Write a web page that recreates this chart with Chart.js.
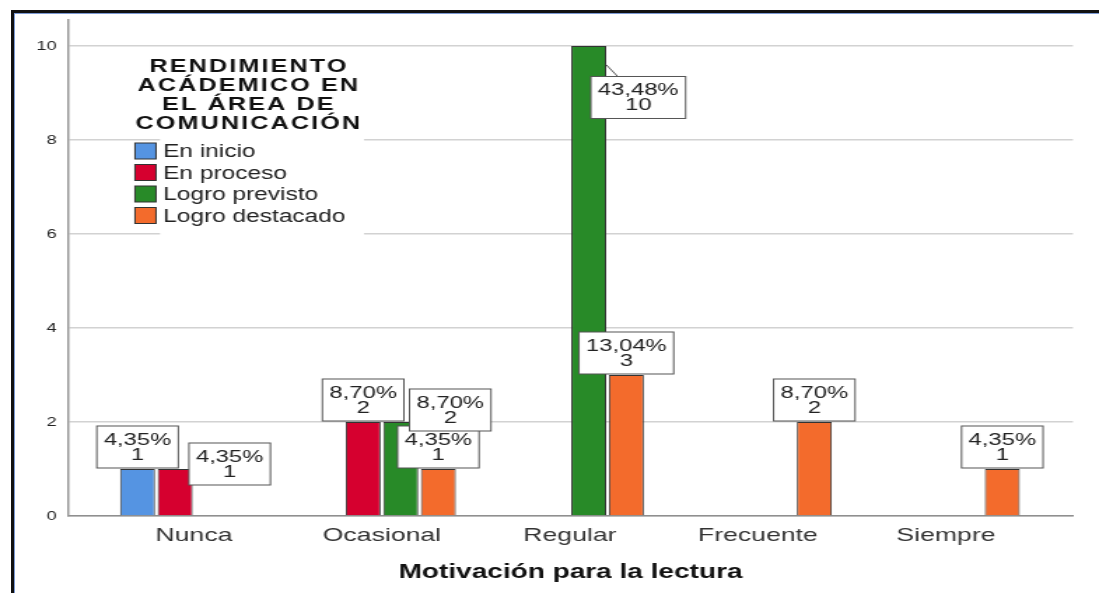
<!DOCTYPE html>
<html>
<head>
<meta charset="utf-8">
<script src="https://cdn.jsdelivr.net/npm/chart.js@4.4.1/dist/chart.umd.min.js"></script>
<style>
  body { margin: 0; background: #fff; }
  #frame {
    position: absolute; left: 11px; top: 10px; right: 0; bottom: 0;
    border-top: 3px solid #111; border-left: 3px solid #111;
    box-shadow: inset 1px 1px 0 #7c9ad4;
  }
  #c { position: absolute; left: 0; top: 0; }
</style>
</head>
<body>
<div id="frame"></div>
<canvas id="c" width="785" height="593" style="width:1099px;height:593px"></canvas>
<script>
// data (counts per category)
const categories = ['Nunca', 'Ocasional', 'Regular', 'Frecuente', 'Siempre'];
const seriesNames = ['En inicio', 'En proceso', 'Logro previsto', 'Logro destacado'];
const enInicio = [1, null, null, null, null];
const enProceso = [1, 2, null, null, null];
const logroPrevisto = [null, 2, 10, null, null];
const logroDestacado = [null, 1, 3, 2, 1];
const yTicks = [0, 2, 4, 6, 8, 10];
const legendTitle = ['RENDIMIENTO', 'ACÁDEMICO EN', 'EL ÁREA DE', 'COMUNICACIÓN'];
const xTitle = 'Motivación para la lectura';

const series = [enInicio, enProceso, logroPrevisto, logroDestacado];
const colors = ['#5594e2', '#d6002f', '#288a28', '#f36b2c'];

// canvas is drawn narrow and stretched by css, like the original export
const SX = 1099 / 785;
const FONT = '"Liberation Sans", Arial, sans-serif';

const total = series.flat().reduce((a, v) => a + (v || 0), 0);
const pct = v => (v / total * 100).toFixed(2).replace('.', ',') + '%';

// labels that were moved aside in the original (display px: dx, dy)
const labelShift = { '1,0': [54.5, 17], '2,1': [49.5, 10], '2,2': [49.5, 73.5] };

const boxLabels = {
  id: 'boxLabels',
  afterDatasetsDraw(chart) {
    const ctx = chart.ctx;
    ctx.save();
    ctx.font = '17px ' + FONT;
    ctx.textAlign = 'center';
    ctx.textBaseline = 'middle';
    for (let d = chart.data.datasets.length - 1; d >= 0; d--) {
      const meta = chart.getDatasetMeta(d);
      meta.data.forEach((bar, i) => {
        const v = chart.data.datasets[d].data[i].y;
        if (v == null) return;
        const l1 = pct(v), l2 = String(v);
        const w = Math.max(ctx.measureText(l1).width, ctx.measureText(l2).width) + 10;
        const h = 42;
        const sh = labelShift[d + ',' + i] || [0, 0];
        const cx = bar.x + sh[0] / SX;
        const cy = bar.y - 1 - h / 2 + sh[1];
        if (sh[0] || sh[1]) {
          const left = bar.x - bar.width / 2, right = bar.x + bar.width / 2;
          const ax = Math.min(Math.max(cx, left), right);
          const ay = Math.min(Math.max(cy, bar.y), bar.y + 0.04 * (bar.base - bar.y));
          ctx.strokeStyle = '#555';
          ctx.lineWidth = 1;
          ctx.beginPath();
          ctx.moveTo(ax, ay);
          ctx.lineTo(cx, cy);
          ctx.stroke();
        }
        ctx.fillStyle = '#fff';
        ctx.fillRect(cx - w / 2, cy - h / 2, w, h);
        ctx.strokeStyle = '#555';
        ctx.lineWidth = 1;
        ctx.strokeRect(cx - w / 2, cy - h / 2, w, h);
        ctx.fillStyle = '#222';
        ctx.fillText(l1, cx, cy - 7);
        ctx.fillText(l2, cx, cy + 8);
      });
    }
    ctx.restore();
  }
};

const legendBox = {
  id: 'legendBox',
  afterDraw(chart) {
    const ctx = chart.ctx;
    ctx.save();
    ctx.fillStyle = '#fff';
    ctx.fillRect(160 / SX, 50, (364 - 160) / SX, 188);
    ctx.fillStyle = '#111';
    ctx.font = 'bold 18px ' + FONT;
    ctx.letterSpacing = '1.5px';
    ctx.textAlign = 'center';
    ctx.textBaseline = 'middle';
    legendTitle.forEach((t, k) => ctx.fillText(t, 249 / SX, 67.5 + k * 18.7));
    ctx.letterSpacing = '0px';
    ctx.font = '17.5px ' + FONT;
    ctx.textAlign = 'left';
    chart.data.datasets.forEach((ds, k) => {
      const yc = 151 + k * 21.5;
      ctx.fillStyle = ds.backgroundColor;
      ctx.fillRect(135 / SX, yc - 8, 21 / SX, 16);
      ctx.strokeStyle = '#333';
      ctx.lineWidth = 1;
      ctx.strokeRect(135 / SX, yc - 8, 21 / SX, 16);
      ctx.fillStyle = '#222';
      ctx.fillText(ds.label, 163 / SX, yc + 1.5);
    });
    ctx.restore();
  }
};

Chart.defaults.font.family = FONT;

const canvas = document.getElementById('c');
new Chart(canvas, {
  type: 'bar',
  data: {
    datasets: seriesNames.map((name, k) => ({
      label: name,
      data: series[k].map((v, i) => ({ x: i, y: v })),
      backgroundColor: colors[k],
      borderColor: '#333',
      borderWidth: 1,
      categoryPercentage: 0.8,
      barPercentage: 0.93
    }))
  },
  options: {
    responsive: false,
    animation: false,
    devicePixelRatio: 1,
    layout: { padding: { left: 0, top: 20, right: 785 - 1073 / SX, bottom: 0 } },
    plugins: { legend: { display: false }, tooltip: { enabled: false } },
    scales: {
      x: {
        type: 'linear',
        offset: false,
        min: -0.67,
        max: 4.676,
        grid: { display: false, drawTicks: false },
        border: { display: true, color: '#8f8f8f', width: 1.5 },
        ticks: {
          stepSize: 1,
          includeBounds: false,
          autoSkip: false,
          maxRotation: 0,
          padding: 8,
          color: '#333',
          font: { size: 19 },
          callback: v => Number.isInteger(v) ? categories[v] : ''
        },
        title: {
          display: true,
          text: xTitle,
          color: '#111',
          font: { size: 20, weight: 'bold' },
          padding: { top: 0, bottom: 9 }
        },
        afterFit: s => { s.height = 77; }
      },
      y: {
        min: 0,
        max: 10.553,
        grid: { color: '#d2d2d2', lineWidth: 1.5, drawTicks: false },
        border: { display: true, color: '#999', width: 1.5 },
        ticks: { padding: 8, color: '#222', font: { size: 13 }, includeBounds: false },
        afterBuildTicks: s => { s.ticks = yTicks.map(v => ({ value: v })); },
        afterFit: s => { s.width = 68 / SX; }
      }
    }
  },
  plugins: [boxLabels, legendBox]
});
canvas.style.width = '1099px';
canvas.style.height = '593px';
</script>
</body>
</html>
